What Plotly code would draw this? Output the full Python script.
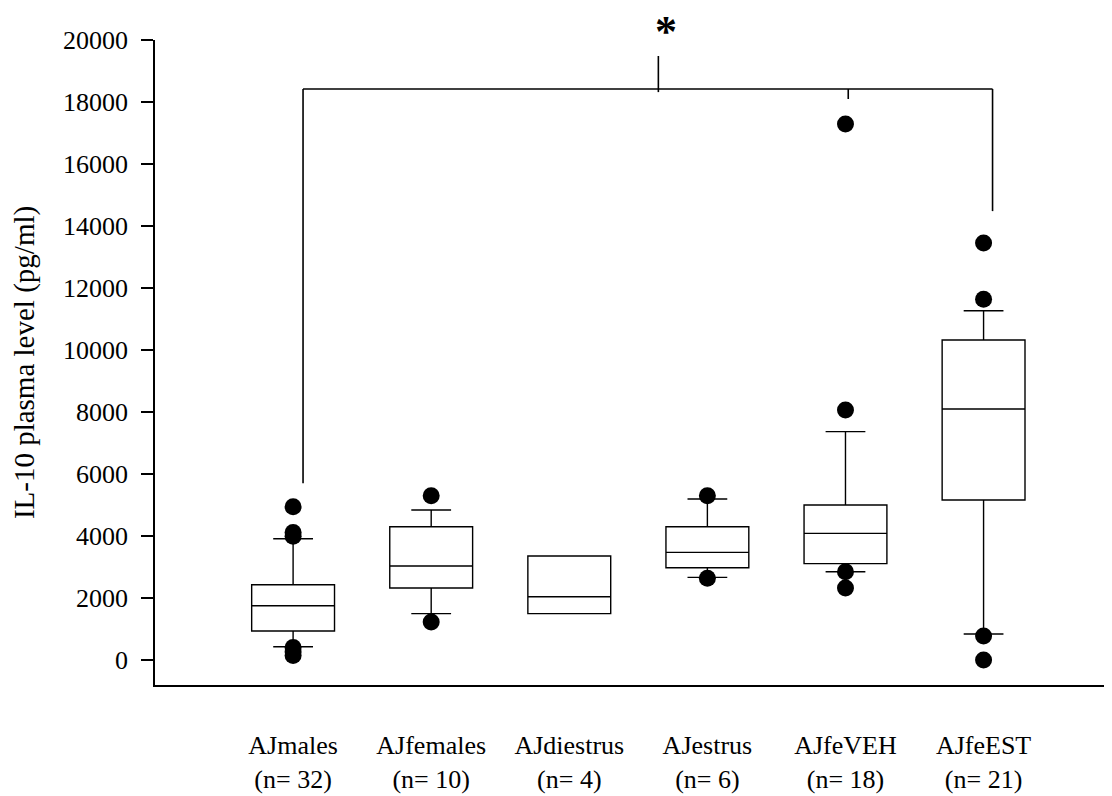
import plotly.graph_objects as go

# ---- data ----
categories = ["AJmales", "AJfemales", "AJdiestrus", "AJestrus", "AJfeVEH", "AJfeEST"]
n_labels = ["(n= 32)", "(n= 10)", "(n= 4)", "(n= 6)", "(n= 18)", "(n= 21)"]
q1_vals = [935, 2323, 1495, 2978, 3108, 5161]
median_vals = [1750, 3032, 2043, 3473, 4086, 8097]
q3_vals = [2430, 4300, 3355, 4300, 5000, 10323]
lower_whisker = [430, 1495, 1495, 2667, 2849, 839]
upper_whisker = [3914, 4839, 3355, 5194, 7366, 11268]
outliers = [
    [4946, 4110, 3990, 400, 260, 145],
    [5300, 1226],
    [],
    [5300, 2635],
    [17290, 8065, 2849, 2323],
    [13452, 11640, 774, 0],
]
y_ticks = [0, 2000, 4000, 6000, 8000, 10000, 12000, 14000, 16000, 18000, 20000]

# significance bracket (category units / data units)
bracket_level = 18419
bracket_left = (0.072, 5700)
bracket_right = (5.065, 14480)
bracket_up_tick = (2.645, 19484)
bracket_down_tick = (4.02, 18097)
star_x = 2.70

FONT = "Liberation Serif, Times New Roman, serif"
positions = list(range(len(categories)))

fig = go.Figure()
for i, cat in enumerate(categories):
    fig.add_trace(go.Box(
        x=[positions[i]],
        q1=[q1_vals[i]], median=[median_vals[i]], q3=[q3_vals[i]],
        lowerfence=[lower_whisker[i]], upperfence=[upper_whisker[i]],
        width=0.6, whiskerwidth=0.48,
        fillcolor="white",
        line=dict(color="black", width=1.4),
        boxpoints=False, showlegend=False, name=cat,
    ))
    if outliers[i]:
        fig.add_trace(go.Scatter(
            x=[positions[i]] * len(outliers[i]), y=outliers[i],
            mode="markers",
            marker=dict(color="black", size=17, line=dict(width=0)),
            showlegend=False, cliponaxis=False,
        ))

line_style = dict(color="black", width=1.6)
shapes = [
    dict(type="line", xref="x", yref="y", x0=bracket_left[0], x1=bracket_right[0],
         y0=bracket_level, y1=bracket_level, line=line_style),
    dict(type="line", xref="x", yref="y", x0=bracket_left[0], x1=bracket_left[0],
         y0=bracket_left[1], y1=bracket_level, line=line_style),
    dict(type="line", xref="x", yref="y", x0=bracket_right[0], x1=bracket_right[0],
         y0=bracket_right[1], y1=bracket_level, line=line_style),
    dict(type="line", xref="x", yref="y", x0=bracket_up_tick[0], x1=bracket_up_tick[0],
         y0=bracket_level - 100, y1=bracket_up_tick[1], line=line_style),
    dict(type="line", xref="x", yref="y", x0=bracket_down_tick[0], x1=bracket_down_tick[0],
         y0=bracket_down_tick[1], y1=bracket_level, line=line_style),
]

fig.update_layout(
    width=1112, height=796,
    margin=dict(l=147, r=8, t=32, b=119),
    paper_bgcolor="white", plot_bgcolor="white",
    font=dict(family=FONT, color="black", size=26),
    shapes=shapes,
    annotations=[dict(x=star_x, y=0.972, xref="x", yref="paper",
                      text="<b>*</b>", showarrow=False, yanchor="bottom",
                      font=dict(family=FONT, size=44, color="black"))],
    xaxis=dict(
        range=[-1, 5.93], tickmode="array", tickvals=positions,
        ticktext=[f"{c}<br>{n}" for c, n in zip(categories, n_labels)],
        ticks="", showline=True, linecolor="black", linewidth=1.5,
        showgrid=False, zeroline=False, ticklabelstandoff=36,
        tickfont=dict(family=FONT, size=26), automargin=False,
    ),
    yaxis=dict(
        range=[-806, 20000], tickmode="array", tickvals=y_ticks,
        ticktext=[str(v) for v in y_ticks],
        ticks="outside", ticklen=12, tickwidth=1.5, tickcolor="black",
        showline=True, linecolor="black", linewidth=1.5,
        showgrid=False, zeroline=False, ticklabelstandoff=8,
        tickfont=dict(family=FONT, size=26), automargin=False,
        title=dict(text="IL-10 plasma level (pg/ml)", standoff=28,
                   font=dict(family=FONT, size=29)),
    ),
)

fig.write_html("out.html")
